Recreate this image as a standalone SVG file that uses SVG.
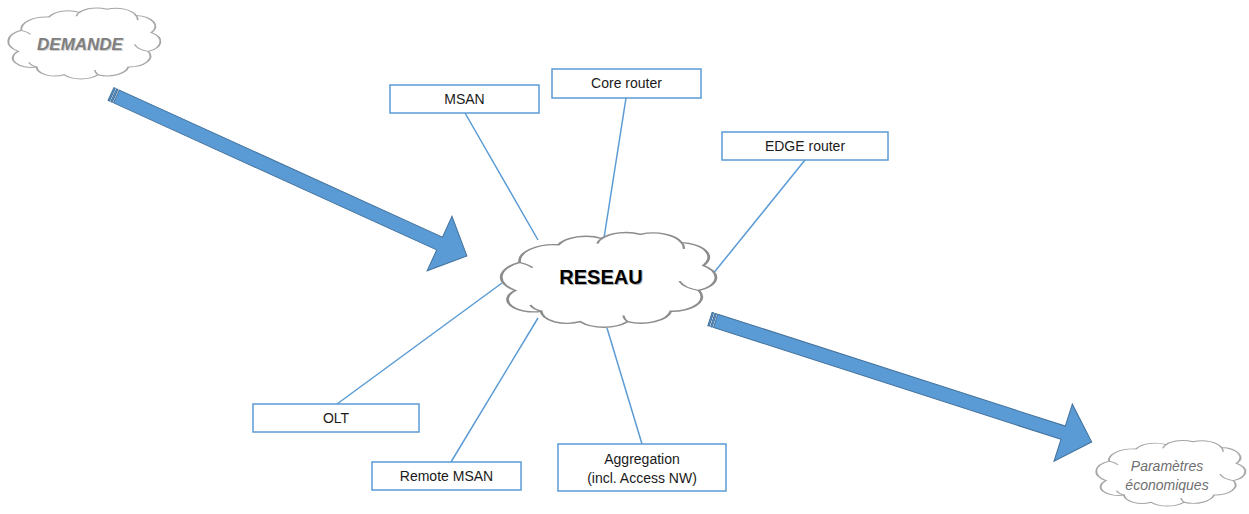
<svg xmlns="http://www.w3.org/2000/svg" width="1249" height="514" viewBox="0 0 1249 514">
<style>
.box{fill:#fff;stroke:#5B9BD5;stroke-width:1.5}
.lbl{font-family:"Liberation Sans",Arial,sans-serif;font-size:14px;fill:#1a1a1a;text-anchor:middle}
.conn{stroke:#5B9BD5;stroke-width:1.5;fill:none}
.cloud{fill:#fff;stroke:#8C8C8C;stroke-width:1.3}
.crease{fill:none;stroke:#8C8C8C;stroke-width:1.1}
.arrow{fill:#5B9BD5;stroke:#41719C;stroke-width:1}
</style>
<defs>
<path id="cloudShape" d="M 8,62 A 16,16 0 0 1 10,35 A 16,16 0 0 1 28,18 A 14,14 0 0 1 48,12 A 14,14 0 0 1 66,8 A 14,14 0 0 1 85,16 A 14,14 0 0 1 95,38 A 14,14 0 0 1 93,62 A 14,14 0 0 1 80,82 A 14,14 0 0 1 60,92 A 14,14 0 0 1 38,92 A 12,12 0 0 1 20,82 A 12,12 0 0 1 8,62 Z"/>
<path id="cloudCrease" d="M 20,82 A 10,10 0 0 1 15,76 M 10,35 A 14,14 0 0 1 16,40 M 48,12 A 12,12 0 0 0 46,17 M 85,16 A 12,12 0 0 1 86,22 M 93,62 A 14,14 0 0 1 84,53 M 60,92 A 14,14 0 0 1 58,86"/>
</defs>

<g id="connectors">
<line class="conn" x1="465" y1="113" x2="538" y2="240"/>
<line class="conn" x1="626" y1="98" x2="604" y2="238"/>
<line class="conn" x1="805" y1="160" x2="708" y2="280"/>
<line class="conn" x1="337" y1="404" x2="502" y2="283"/>
<line class="conn" x1="451" y1="462" x2="538" y2="318"/>
<line class="conn" x1="642" y1="444" x2="607" y2="328"/>
</g>

<g id="arrow-demande">
<g transform="translate(111,94) rotate(24.47)">
<path class="arrow" d="M 6,-7 H 361 V -30 L 391,0 L 361,30 V 7 H 6 Z"/>
<rect class="arrow" x="0" y="-7" width="1.5" height="14"/>
<rect class="arrow" x="3" y="-7" width="1.5" height="14"/>
</g>
</g>
<g id="arrow-parametres">
<g transform="translate(710,319) rotate(17.85)">
<path class="arrow" d="M 6,-7 H 371 V -30 L 401,0 L 371,30 V 7 H 6 Z"/>
<rect class="arrow" x="0" y="-7" width="1.5" height="14"/>
<rect class="arrow" x="3" y="-7" width="1.5" height="14"/>
</g>
</g>

<g id="demande">
<g transform="translate(6,3) scale(1.53,0.78)">
<use href="#cloudShape" class="cloud" vector-effect="non-scaling-stroke" style="stroke:#A6A6A6"/>
<use href="#cloudCrease" class="crease" vector-effect="non-scaling-stroke" style="stroke:#A6A6A6"/>
</g>
<text x="81" y="51" style="font-family:'Liberation Sans',Arial,sans-serif;font-size:17px;font-weight:bold;font-style:italic;fill:#D0D0D0;text-anchor:middle">DEMANDE</text>
<text x="80" y="50" style="font-family:'Liberation Sans',Arial,sans-serif;font-size:17px;font-weight:bold;font-style:italic;fill:#7F7F7F;text-anchor:middle">DEMANDE</text>
</g>

<g id="reseau">
<g transform="translate(498,226) scale(2.16,1.04)">
<use href="#cloudShape" class="cloud" vector-effect="non-scaling-stroke"/>
<use href="#cloudCrease" class="crease" vector-effect="non-scaling-stroke"/>
</g>
<text x="602" y="285" style="font-family:'Liberation Sans',Arial,sans-serif;font-size:20px;font-weight:bold;fill:#B0B0B0;text-anchor:middle">RESEAU</text>
<text x="601" y="284" style="font-family:'Liberation Sans',Arial,sans-serif;font-size:20px;font-weight:bold;fill:#000;text-anchor:middle">RESEAU</text>
</g>

<g id="parametres">
<g transform="translate(1094,436) scale(1.5,0.72)">
<use href="#cloudShape" class="cloud" vector-effect="non-scaling-stroke" style="stroke:#A6A6A6"/>
<use href="#cloudCrease" class="crease" vector-effect="non-scaling-stroke" style="stroke:#A6A6A6"/>
</g>
<text x="1167" y="471" style="font-family:'Liberation Sans',Arial,sans-serif;font-size:14px;font-style:italic;fill:#6F6F6F;text-anchor:middle">Paramètres</text>
<text x="1167" y="490" style="font-family:'Liberation Sans',Arial,sans-serif;font-size:14px;font-style:italic;fill:#6F6F6F;text-anchor:middle">économiques</text>
</g>

<g id="msan">
<rect class="box" x="390" y="85" width="149" height="28"/>
<text class="lbl" x="464.5" y="104">MSAN</text>
</g>
<g id="core-router">
<rect class="box" x="552" y="69" width="149" height="29"/>
<text class="lbl" x="626.5" y="88">Core router</text>
</g>
<g id="edge-router">
<rect class="box" x="722" y="132" width="166" height="28"/>
<text class="lbl" x="805" y="151">EDGE router</text>
</g>
<g id="olt">
<rect class="box" x="253" y="404" width="166" height="28"/>
<text class="lbl" x="336" y="423">OLT</text>
</g>
<g id="remote-msan">
<rect class="box" x="372" y="462" width="149" height="28"/>
<text class="lbl" x="446.5" y="481">Remote MSAN</text>
</g>
<g id="aggregation">
<rect class="box" x="558" y="444" width="168" height="47"/>
<text class="lbl" x="642" y="464">Aggregation</text>
<text class="lbl" x="642" y="483">(incl. Access NW)</text>
</g>
</svg>
